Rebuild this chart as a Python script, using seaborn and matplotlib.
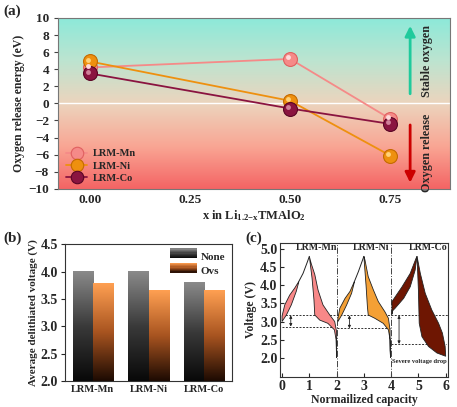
import numpy as np
import pandas as pd
import seaborn as sns
import matplotlib.pyplot as plt
import matplotlib.transforms as mtransforms
from matplotlib.colors import LinearSegmentedColormap
from matplotlib.lines import Line2D
from matplotlib.patches import Rectangle
from matplotlib.legend_handler import HandlerBase

# ---- (a) oxygen release energy
x_li = [0.0, 0.5, 0.75]
e_mn = [4.2, 5.2, -1.8]
e_ni = [4.9, 0.3, -6.1]
e_co = [3.5, -0.6, -2.4]
samples = ['LRM-Mn', 'LRM-Ni', 'LRM-Co']

# ---- (b) average delithiated voltage
v_none = [4.0, 4.0, 3.8]
v_ovs = [3.79, 3.65, 3.66]

# ---- (c) charge / discharge profiles (x, V)
mn_chg_out = [(0.0, 3.15), (0.1, 3.46), (0.28, 3.73), (0.46, 3.92), (0.61, 4.1)]
mn_chg_in = [(0.0, 3.0), (0.16, 3.18), (0.34, 3.46), (0.52, 3.83), (0.61, 4.08)]
mn_top = [(0.61, 4.1), (0.77, 4.33), (0.93, 4.65), (1.0, 4.8)]
mn_dis_out = [(1.0, 4.8), (1.07, 4.6), (1.2, 4.3), (1.32, 3.87), (1.5, 3.46),
              (1.75, 3.18), (1.93, 3.0), (2.0, 2.72), (2.0, 2.2)]
mn_dis_in = [(1.0, 4.8), (1.1, 4.2), (1.17, 3.6), (1.2, 3.18), (1.38, 3.04),
             (1.68, 2.95), (1.92, 2.77), (1.98, 2.5), (2.0, 2.0)]

ni_chg_out = [(2.05, 3.1), (2.12, 3.37), (2.31, 3.64), (2.49, 3.83), (2.65, 4.1)]
ni_chg_in = [(2.05, 3.0), (2.19, 3.18), (2.37, 3.46), (2.55, 3.78), (2.65, 4.08)]
ni_top = [(2.65, 4.1), (2.8, 4.38), (3.0, 4.8)]
ni_dis_out = [(3.0, 4.8), (3.04, 4.7), (3.16, 4.24), (3.35, 3.87), (3.53, 3.55),
              (3.77, 3.27), (3.9, 3.09), (3.96, 2.77), (3.96, 2.2)]
ni_dis_in = [(3.0, 4.8), (3.08, 4.0), (3.13, 3.41), (3.16, 3.18), (3.4, 3.09),
             (3.71, 2.95), (3.9, 2.77), (3.96, 2.5), (3.98, 2.0)]

co_chg_out = [(4.03, 3.55), (4.4, 3.96), (4.7, 4.33), (4.91, 4.74), (4.95, 4.8)]
co_chg_in = [(4.03, 3.2), (4.06, 3.3), (4.15, 3.37), (4.46, 3.64), (4.7, 3.96),
             (4.88, 4.42), (4.95, 4.8)]
co_top = [(4.95, 4.8)]
co_dis_out = [(4.95, 4.8), (5.07, 4.33), (5.25, 3.78), (5.49, 3.32), (5.74, 2.95),
              (5.88, 2.68), (5.98, 2.31), (6.0, 2.04)]
co_dis_in = [(4.95, 4.8), (5.0, 3.87), (5.03, 2.95), (5.13, 2.58), (5.37, 2.31),
             (5.68, 2.13), (6.0, 2.04)]

v_ref = 3.17
v_drop = [2.86, 2.81, 2.38]

sns.set_style('ticks')
plt.rcParams.update({
    'font.family': ['Liberation Serif', 'DejaVu Serif'],
    'font.weight': 'bold',
    'axes.labelweight': 'bold',
    'mathtext.fontset': 'custom',
    'mathtext.rm': 'Liberation Serif:bold',
    'mathtext.it': 'Liberation Serif:bold',
    'mathtext.bf': 'Liberation Serif:bold',
})

fig = plt.figure(figsize=(4.57, 4.07), dpi=100)
ax_a = fig.add_axes([0.127, 0.536, 0.858, 0.42])
ax_b = fig.add_axes([0.142, 0.064, 0.366, 0.336])
ax_c = fig.add_axes([0.613, 0.074, 0.367, 0.329])

# ================= (a)
bg = LinearSegmentedColormap.from_list('bg', [
    (0.0, '#f46464'), (0.25, '#f9a694'), (0.5, '#ecd4bd'),
    (0.75, '#bde4d0'), (1.0, '#8de9d9')])
grad = np.linspace(0, 1, 256).reshape(-1, 1)
ax_a.imshow(grad, extent=[-0.08, 0.9, -10, 10], origin='lower', aspect='auto',
            cmap=bg, zorder=0)
ax_a.axhline(0, color='white', lw=1, zorder=1)

df_a = pd.DataFrame({'x': x_li * 3, 'energy': e_mn + e_ni + e_co,
                     'sample': [s for s in samples for _ in x_li]})
cols = {'LRM-Mn': '#f58a88', 'LRM-Ni': '#ee900f', 'LRM-Co': '#8a1440'}
edges = {'LRM-Mn': '#e06060', 'LRM-Ni': '#c46a00', 'LRM-Co': '#5a0525'}
lights = {'LRM-Mn': '#ffdada', 'LRM-Ni': '#ffd27a', 'LRM-Co': '#d0809a'}
hl = mtransforms.offset_copy(ax_a.transData, fig=fig, x=-1.2, y=1.2, units='points')
handles = []
for s in samples:
    d = df_a[df_a['sample'] == s]
    sns.lineplot(data=d, x='x', y='energy', color=cols[s], lw=1.3, marker='o',
                 markersize=10, markeredgecolor=edges[s], markeredgewidth=0.8,
                 ax=ax_a, zorder=3, legend=False)
    ax_a.plot(d['x'], d['energy'], 'o', color=lights[s], ms=3.5, mew=0,
              transform=hl, zorder=4)
    handles.append(Line2D([], [], color=cols[s], lw=1.3, marker='o', ms=9,
                          mec=edges[s], mew=0.8, label=s))
ax_a.legend(handles=handles, loc='lower left', frameon=False, fontsize=7.5,
            handlelength=2.0, labelspacing=0.3, borderaxespad=0.4,
            handletextpad=0.5, bbox_to_anchor=(0.0, -0.015))

ax_a.annotate('', xy=(0.8, 9.4), xytext=(0.8, 0.8),
              arrowprops=dict(arrowstyle='-|>', color='#1fca9c', lw=2,
                              mutation_scale=15), zorder=5)
ax_a.annotate('', xy=(0.8, -9.6), xytext=(0.8, -2.2),
              arrowprops=dict(arrowstyle='-|>', color='#cc0000', lw=2,
                              mutation_scale=15), zorder=5)
ax_a.text(0.842, 5.0, 'Stable oxygen', rotation=90, ha='center', va='center',
          fontsize=8.7)
ax_a.text(0.842, -5.8, 'Oxygen release', rotation=90, ha='center', va='center',
          fontsize=8.7)

ax_a.set_xlim(-0.08, 0.9)
ax_a.set_ylim(-10, 10)
ax_a.set_xticks([0, 0.25, 0.5, 0.75])
ax_a.set_xticklabels(['0.00', '0.25', '0.50', '0.75'])
ax_a.set_yticks(range(-10, 11, 2))
ax_a.tick_params(labelsize=9.5, length=3, width=0.8, color='#444')
ax_a.tick_params(axis='x', length=0)
ax_a.set_xlabel(r'x in Li$_{1.2\mathrm{-}x}$TMAlO$_2$', fontsize=9, labelpad=2)
ax_a.set_ylabel('Oxygen release energy (eV)', fontsize=8.5, labelpad=2)
for sp in ax_a.spines.values():
    sp.set_color('#777')
    sp.set_linewidth(0.8)

# ================= (b)
df_b = pd.DataFrame({'sample': samples * 2, 'voltage': v_none + v_ovs,
                     'type': ['None'] * 3 + ['Ovs'] * 3})
sns.barplot(data=df_b, x='sample', y='voltage', hue='type', width=0.72,
            palette=['#555555', '#d07030'], ax=ax_b, legend=False)
cm_none = LinearSegmentedColormap.from_list('n', ['#080808', '#3a3a3a', '#8a8a8a'])
cm_ovs = LinearSegmentedColormap.from_list('o', ['#1c0a02', '#a85420', '#ffa052'])
for cont, cm in zip(ax_b.containers, [cm_none, cm_ovs]):
    for bar in cont:
        x0 = bar.get_x()
        w = bar.get_width()
        h = bar.get_height()
        bar.set_facecolor('none')
        bar.set_edgecolor('none')
        ax_b.imshow(grad, extent=[x0, x0 + w, 2.0, h], origin='lower',
                    aspect='auto', cmap=cm, zorder=2)


class GradHandler(HandlerBase):
    def __init__(self, cmap):
        super().__init__()
        self.cmap = cmap

    def create_artists(self, legend, orig, xd, yd, width, height, fontsize, trans):
        n = 8
        arts = []
        for i in range(n):
            r = Rectangle((xd, yd + height * i / n), width, height / n + 0.05,
                          facecolor=self.cmap((i + 0.5) / n), edgecolor='none',
                          transform=trans)
            arts.append(r)
        return arts


h_none = Rectangle((0, 0), 1, 1, label='None')
h_ovs = Rectangle((0, 0), 1, 1, label='Ovs')
ax_b.legend(handles=[h_none, h_ovs], loc='upper right', frameon=False,
            fontsize=8, handlelength=2.4, handleheight=1.0, labelspacing=0.3,
            borderaxespad=0.2, handletextpad=0.4,
            handler_map={h_none: GradHandler(cm_none), h_ovs: GradHandler(cm_ovs)})
ax_b.set_xlim(-0.5, 2.5)
ax_b.set_ylim(2.0, 4.5)
ax_b.set_yticks([2.0, 2.5, 3.0, 3.5, 4.0, 4.5])
ax_b.set_xlabel('')
ax_b.set_ylabel('Average delithiated voltage (V)', fontsize=8, labelpad=2)
ax_b.tick_params(axis='y', labelsize=10, length=3, width=0.8, pad=2)
ax_b.tick_params(axis='x', labelsize=7.5, length=0, pad=3)
for sp in ax_b.spines.values():
    sp.set_color('#333')
    sp.set_linewidth(0.8)

# ================= (c)
profiles = [
    (mn_chg_out, mn_chg_in, mn_top, mn_dis_out, mn_dis_in, '#f88888'),
    (ni_chg_out, ni_chg_in, ni_top, ni_dis_out, ni_dis_in, '#f4a035'),
    (co_chg_out, co_chg_in, co_top, co_dis_out, co_dis_in, '#6e1602'),
]
for c_out, c_in, top, d_out, d_in, fc in profiles:
    for a, b in [(c_out, c_in), (d_out, d_in)]:
        poly = np.array(a + b[::-1])
        ax_c.fill(poly[:, 0], poly[:, 1], facecolor=fc, edgecolor='#222',
                  lw=0.6, zorder=3)
    t = np.array(top)
    ax_c.plot(t[:, 0], t[:, 1], color='#222', lw=0.7, zorder=3)

for xv in [2, 4]:
    ax_c.axvline(xv, color='#444', lw=0.7, ls='-.', zorder=1)
ax_c.hlines(v_ref, 0, 6.08, colors='#333', lw=0.7, linestyles=(0, (2, 1.5)), zorder=2)
arrow_x = [0.32, 2.47, 4.29]
for i, (vd, ax_x) in enumerate(zip(v_drop, arrow_x)):
    ax_c.hlines(vd, 2 * i, 2 * i + 2, colors='#333', lw=0.7,
                linestyles=(0, (2, 1.5)), zorder=2)
    ax_c.annotate('', xy=(ax_x, vd), xytext=(ax_x, v_ref),
                  arrowprops=dict(arrowstyle='<|-|>', color='#222', lw=0.6,
                                  mutation_scale=4, shrinkA=0, shrinkB=0))
for s, xv in zip(samples, [1.26, 3.28, 5.37]):
    ax_c.text(xv, 5.04, s, ha='center', va='center', fontsize=7.2)
ax_c.text(5.05, 1.9, 'Severe voltage drop', ha='center', va='center', fontsize=4.7)

ax_c.set_xlim(-0.07, 6.08)
ax_c.set_ylim(1.47, 5.17)
ax_c.set_xticks(range(0, 7))
ax_c.set_yticks([2.0, 2.5, 3.0, 3.5, 4.0, 4.5, 5.0])
ax_c.tick_params(labelsize=10, direction='in', length=3, width=0.8, pad=2)
ax_c.set_xlabel('Normailized capacity', fontsize=8.5, labelpad=1)
ax_c.set_ylabel('Voltage (V)', fontsize=8.5, labelpad=2)
for sp in ax_c.spines.values():
    sp.set_color('#333')
    sp.set_linewidth(0.8)

fig.text(0.007, 0.972, '(a)', fontsize=11, va='center')
fig.text(0.007, 0.415, '(b)', fontsize=11, va='center')
fig.text(0.538, 0.415, '(c)', fontsize=11, va='center')

fig.savefig('out.png', dpi=100)
